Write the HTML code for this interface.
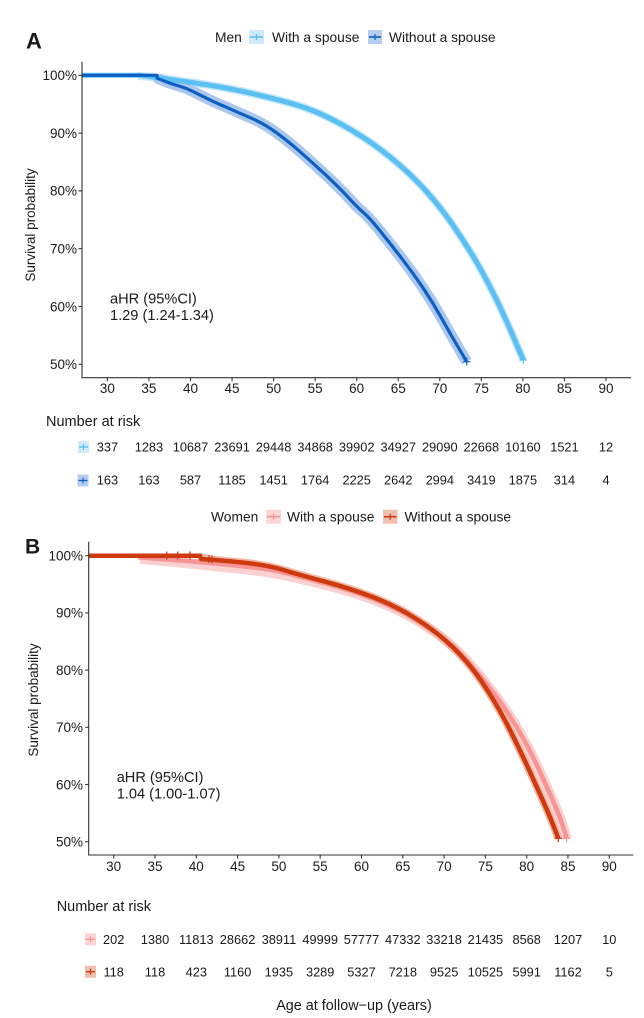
<!DOCTYPE html>
<html><head><meta charset="utf-8"><style>
html,body{margin:0;padding:0;background:#fff;}
svg{display:block;}
text{font-family:"Liberation Sans",Arial,sans-serif;fill:#1a1a1a;}
.tk{font-size:13.5px;}
.rk{font-size:12.8px;}
.lg{font-size:13.8px;}
.tt{font-size:14.5px;}
</style></head><body>
<svg width="644" height="1018" viewBox="0 0 644 1018" xmlns="http://www.w3.org/2000/svg">
<rect width="644" height="1018" fill="#fff"/>

<!-- ================= PANEL A ================= -->
<text x="26" y="48.3" style="font-size:22px;font-weight:bold">A</text>
<text class="lg" x="215" y="41.9">Men</text>
<rect x="249" y="30" width="15" height="14" fill="#cfeafc"/>
<line x1="250" y1="37" x2="263" y2="37" stroke="#5bbff2" stroke-width="1.6"/>
<line x1="256.5" y1="34" x2="256.5" y2="40" stroke="#5bbff2" stroke-width="1.2"/>
<text class="lg" x="272" y="41.9">With a spouse</text>
<rect x="368" y="30" width="14" height="14" fill="#b5cdef"/>
<line x1="369" y1="37" x2="381" y2="37" stroke="#0d5fc2" stroke-width="1.6"/>
<line x1="375" y1="34" x2="375" y2="40" stroke="#0d5fc2" stroke-width="1.2"/>
<text class="lg" x="389" y="41.9">Without a spouse</text>

<!-- bands A -->
<path d="M138,76 L150,76.65 Q160,78 170,79.35 Q180,80.7 205,84.5 Q230,88.3 255,94.15 Q280,100 296.65,105 Q313.3,110 330,118.35 Q346.7,126.7 363.35,137.5 Q380,148.3 396.65,162.5 Q413.3,176.7 426.65,191.7 Q440,206.7 451.65,223.35 Q463.3,240 473.3,256.65 Q483.3,273.3 493.3,293.3 Q503.3,313.3 513.3,336.65 L523.3,360" fill="none" stroke="#c5e6fb" stroke-width="8" stroke-linejoin="round"/>
<path d="M157,77 L158.5,78.75 Q160,79.5 166,81.75 Q172,84 179.35,86.15 Q186.7,88.3 193.35,91.65 Q200,95 206.65,98.35 Q213.3,101.7 219.65,104.35 Q226,107 233,110.15 Q240,113.3 251.65,118.3 Q263.3,123.3 275,131.65 Q286.7,140 300,151.65 Q313.3,163.3 326.65,175.8 Q340,188.3 348.35,197.5 Q356.7,206.7 363.35,212.5 Q370,218.3 380,230.8 Q390,243.3 401.65,258.3 Q413.3,273.3 423.3,288.3 Q433.3,303.3 441.65,318.3 Q450,333.3 458.35,347.5 L466.7,361.7" fill="none" stroke="#abc8ec" stroke-width="11" stroke-linejoin="round"/>
<!-- lines A -->
<path d="M82,75.3 L140,75.3 L150,76.65 Q160,78 170,79.35 Q180,80.7 205,84.5 Q230,88.3 255,94.15 Q280,100 296.65,105 Q313.3,110 330,118.35 Q346.7,126.7 363.35,137.5 Q380,148.3 396.65,162.5 Q413.3,176.7 426.65,191.7 Q440,206.7 451.65,223.35 Q463.3,240 473.3,256.65 Q483.3,273.3 493.3,293.3 Q503.3,313.3 513.3,336.65 L523.3,360" fill="none" stroke="#5bbff2" stroke-width="5" stroke-linejoin="round"/>
<path d="M82,75.3 L157,75.3 L157,78 L158.5,78.75 Q160,79.5 166,81.75 Q172,84 179.35,86.15 Q186.7,88.3 193.35,91.65 Q200,95 206.65,98.35 Q213.3,101.7 219.65,104.35 Q226,107 233,110.15 Q240,113.3 251.65,118.3 Q263.3,123.3 275,131.65 Q286.7,140 300,151.65 Q313.3,163.3 326.65,175.8 Q340,188.3 348.35,197.5 Q356.7,206.7 363.35,212.5 Q370,218.3 380,230.8 Q390,243.3 401.65,258.3 Q413.3,273.3 423.3,288.3 Q433.3,303.3 441.65,318.3 Q450,333.3 458.35,347.5 L466.7,361.7" fill="none" stroke="#0d5fc2" stroke-width="3.2" stroke-linejoin="round"/>
<line x1="82" y1="75.3" x2="157" y2="75.3" stroke="#0d5fc2" stroke-width="1.6"/>
<g stroke="#0d5fc2" stroke-width="1.2">
<line x1="466.7" y1="357.5" x2="466.7" y2="365.5"/><line x1="463" y1="361.7" x2="470.4" y2="361.7"/>
</g>
<g stroke="#5bbff2" stroke-width="1.2">
<line x1="523.3" y1="356" x2="523.3" y2="364"/><line x1="519.6" y1="360" x2="527" y2="360"/>
</g>

<!-- axes A -->
<g stroke="#333" stroke-width="1.1">
<line x1="82" y1="61.7" x2="82" y2="378.2"/>
<line x1="81.5" y1="377.7" x2="631" y2="377.7"/>
<line x1="78.5" y1="75.3" x2="82" y2="75.3"/>
<line x1="78.5" y1="133.1" x2="82" y2="133.1"/>
<line x1="78.5" y1="190.9" x2="82" y2="190.9"/>
<line x1="78.5" y1="248.7" x2="82" y2="248.7"/>
<line x1="78.5" y1="306.5" x2="82" y2="306.5"/>
<line x1="78.5" y1="364.3" x2="82" y2="364.3"/>
<line x1="107.4" y1="377.7" x2="107.4" y2="381.2"/>
<line x1="148.95" y1="377.7" x2="148.95" y2="381.2"/>
<line x1="190.5" y1="377.7" x2="190.5" y2="381.2"/>
<line x1="232.05" y1="377.7" x2="232.05" y2="381.2"/>
<line x1="273.6" y1="377.7" x2="273.6" y2="381.2"/>
<line x1="315.15" y1="377.7" x2="315.15" y2="381.2"/>
<line x1="356.7" y1="377.7" x2="356.7" y2="381.2"/>
<line x1="398.25" y1="377.7" x2="398.25" y2="381.2"/>
<line x1="439.8" y1="377.7" x2="439.8" y2="381.2"/>
<line x1="481.35" y1="377.7" x2="481.35" y2="381.2"/>
<line x1="522.9" y1="377.7" x2="522.9" y2="381.2"/>
<line x1="564.45" y1="377.7" x2="564.45" y2="381.2"/>
<line x1="606" y1="377.7" x2="606" y2="381.2"/>
</g>
<g class="tk" text-anchor="end">
<text x="77" y="80.1">100%</text>
<text x="77" y="137.9">90%</text>
<text x="77" y="195.7">80%</text>
<text x="77" y="253.5">70%</text>
<text x="77" y="311.3">60%</text>
<text x="77" y="369.1">50%</text>
</g>
<g class="tk" text-anchor="middle">
<text x="107.4" y="393">30</text>
<text x="148.95" y="393">35</text>
<text x="190.5" y="393">40</text>
<text x="232.05" y="393">45</text>
<text x="273.6" y="393">50</text>
<text x="315.15" y="393">55</text>
<text x="356.7" y="393">60</text>
<text x="398.25" y="393">65</text>
<text x="439.8" y="393">70</text>
<text x="481.35" y="393">75</text>
<text x="522.9" y="393">80</text>
<text x="564.45" y="393">85</text>
<text x="606" y="393">90</text>
</g>
<text class="tk" transform="translate(35,225) rotate(-90)" text-anchor="middle">Survival probability</text>
<text style="font-size:14.6px" x="110" y="303.5">aHR (95%CI)</text>
<text style="font-size:14.6px" x="110" y="320.2">1.29 (1.24-1.34)</text>

<!-- risk table A -->
<text class="tt" x="46" y="426">Number at risk</text>
<rect x="78" y="441" width="11" height="12" fill="#cfeafc"/>
<line x1="79" y1="447" x2="88" y2="447" stroke="#5bbff2" stroke-width="1.4"/>
<line x1="83.5" y1="444" x2="83.5" y2="450" stroke="#5bbff2" stroke-width="1.1"/>
<rect x="77.5" y="474.5" width="11" height="12" fill="#b5cdef"/>
<line x1="78.5" y1="480.5" x2="87.5" y2="480.5" stroke="#0d5fc2" stroke-width="1.4"/>
<line x1="83" y1="477.5" x2="83" y2="483.5" stroke="#0d5fc2" stroke-width="1.1"/>
<g class="rk" text-anchor="middle">
<text x="107.4" y="451.3">337</text>
<text x="148.95" y="451.3">1283</text>
<text x="190.5" y="451.3">10687</text>
<text x="232.05" y="451.3">23691</text>
<text x="273.6" y="451.3">29448</text>
<text x="315.15" y="451.3">34868</text>
<text x="356.7" y="451.3">39902</text>
<text x="398.25" y="451.3">34927</text>
<text x="439.8" y="451.3">29090</text>
<text x="481.35" y="451.3">22668</text>
<text x="522.9" y="451.3">10160</text>
<text x="564.45" y="451.3">1521</text>
<text x="606" y="451.3">12</text>
<text x="107.4" y="484.6">163</text>
<text x="148.95" y="484.6">163</text>
<text x="190.5" y="484.6">587</text>
<text x="232.05" y="484.6">1185</text>
<text x="273.6" y="484.6">1451</text>
<text x="315.15" y="484.6">1764</text>
<text x="356.7" y="484.6">2225</text>
<text x="398.25" y="484.6">2642</text>
<text x="439.8" y="484.6">2994</text>
<text x="481.35" y="484.6">3419</text>
<text x="522.9" y="484.6">1875</text>
<text x="564.45" y="484.6">314</text>
<text x="606" y="484.6">4</text>
</g>

<!-- ================= PANEL B ================= -->
<text x="25" y="553.3" style="font-size:21px;font-weight:bold">B</text>
<text class="lg" x="211" y="521.6">Women</text>
<rect x="266" y="509.7" width="15" height="14" fill="#fdd5d5"/>
<line x1="267" y1="516.7" x2="280" y2="516.7" stroke="#f79494" stroke-width="1.6"/>
<line x1="273.5" y1="513.7" x2="273.5" y2="519.7" stroke="#f79494" stroke-width="1.2"/>
<text class="lg" x="287" y="521.6">With a spouse</text>
<rect x="383" y="509.7" width="14.5" height="14" fill="#f0bfae"/>
<line x1="384" y1="516.7" x2="396.5" y2="516.7" stroke="#cd3a10" stroke-width="1.6"/>
<line x1="390.2" y1="513.7" x2="390.2" y2="519.7" stroke="#cd3a10" stroke-width="1.2"/>
<text class="lg" x="404.5" y="521.6">Without a spouse</text>

<!-- bands B -->
<path d="M140,559 L170,561.5 Q200,564.5 233.35,568 Q266.7,571.5 283.35,575 Q300,578.5 325,584.75 Q350,591 371.65,599 Q393.3,607 410,616.5 Q426.7,626 440,636 Q453.3,646 465,658.5 Q476.7,671 491.7,690.5 Q506.7,710 518.35,730 Q530,750 538.35,768.35 Q546.7,786.7 553.35,801.7 Q560,816.7 563.35,827.5 L566.7,838.3" fill="none" stroke="#fbd0d0" stroke-width="10" stroke-linejoin="round"/>
<path d="M200,557 L210.5,559.65 Q220,560.3 243.35,562.65 Q266.7,565 283.35,570 Q300,575 325,581.65 Q350,588.3 371.65,596.65 Q393.3,605 410,615 Q426.7,625 440,635.85 Q453.3,646.7 465,660 Q476.7,673.3 488.35,691.65 Q500,710 510,730 Q520,750 528.35,768.35 Q536.7,786.7 543.35,801.7 Q550,816.7 554.15,827.5 L558.3,838.3" fill="none" stroke="#f0b9a5" stroke-width="8" stroke-linejoin="round"/>
<!-- lines B -->
<path d="M88.7,555.7 L140,555.7 L140,557.5 L170,559.75 Q200,562 233.35,565.25 Q266.7,568.5 283.35,572.5 Q300,576.5 325,583.25 Q350,590 371.65,598.25 Q393.3,606.5 410,616.25 Q426.7,626 440,636 Q453.3,646 465,658.5 Q476.7,671 491.7,690.5 Q506.7,710 518.35,730 Q530,750 538.35,768.35 Q546.7,786.7 553.35,801.7 Q560,816.7 563.35,827.5 L566.7,838.3" fill="none" stroke="#f79494" stroke-width="4.5" stroke-linejoin="round"/>
<path d="M88.7,555.7 L200,555.7 L201,559 L210.5,559.65 Q220,560.3 243.35,562.65 Q266.7,565 283.35,570 Q300,575 325,581.65 Q350,588.3 371.65,596.65 Q393.3,605 410,615 Q426.7,625 440,635.85 Q453.3,646.7 465,660 Q476.7,673.3 488.35,691.65 Q500,710 510,730 Q520,750 528.35,768.35 Q536.7,786.7 543.35,801.7 Q550,816.7 554.15,827.5 L558.3,838.3" fill="none" stroke="#cd3a10" stroke-width="4.5" stroke-linejoin="round"/>
<line x1="88.7" y1="555.7" x2="201" y2="555.7" stroke="#cd3a10" stroke-width="1.6"/>
<g stroke="#cd3a10" stroke-width="1.3">
<line x1="166.7" y1="551.5" x2="166.7" y2="559.5"/><line x1="163" y1="555.7" x2="170.4" y2="555.7"/>
<line x1="177.7" y1="551.5" x2="177.7" y2="559.5"/><line x1="174" y1="555.7" x2="181.4" y2="555.7"/>
<line x1="190" y1="551.5" x2="190" y2="559.5"/><line x1="186.3" y1="555.7" x2="193.7" y2="555.7"/>
<line x1="209" y1="555" x2="209" y2="563"/><line x1="205.3" y1="559.3" x2="212.7" y2="559.3"/>
<line x1="212" y1="555.3" x2="212" y2="563.3"/>
<line x1="558.3" y1="834" x2="558.3" y2="842"/><line x1="554.6" y1="838.3" x2="562" y2="838.3"/>
</g>
<g stroke="#f79494" stroke-width="1.3">
<line x1="566.7" y1="834" x2="566.7" y2="842"/><line x1="563" y1="838.3" x2="570.4" y2="838.3"/>
</g>

<!-- axes B -->
<g stroke="#333" stroke-width="1.1">
<line x1="88.7" y1="541.7" x2="88.7" y2="855.5"/>
<line x1="88.2" y1="855" x2="633.3" y2="855"/>
<line x1="85.2" y1="555.7" x2="88.7" y2="555.7"/>
<line x1="85.2" y1="612.9" x2="88.7" y2="612.9"/>
<line x1="85.2" y1="670.1" x2="88.7" y2="670.1"/>
<line x1="85.2" y1="727.3" x2="88.7" y2="727.3"/>
<line x1="85.2" y1="784.5" x2="88.7" y2="784.5"/>
<line x1="85.2" y1="841.7" x2="88.7" y2="841.7"/>
<line x1="113.7" y1="855" x2="113.7" y2="858.5"/>
<line x1="155" y1="855" x2="155" y2="858.5"/>
<line x1="196.3" y1="855" x2="196.3" y2="858.5"/>
<line x1="237.6" y1="855" x2="237.6" y2="858.5"/>
<line x1="278.9" y1="855" x2="278.9" y2="858.5"/>
<line x1="320.2" y1="855" x2="320.2" y2="858.5"/>
<line x1="361.5" y1="855" x2="361.5" y2="858.5"/>
<line x1="402.8" y1="855" x2="402.8" y2="858.5"/>
<line x1="444.1" y1="855" x2="444.1" y2="858.5"/>
<line x1="485.4" y1="855" x2="485.4" y2="858.5"/>
<line x1="526.7" y1="855" x2="526.7" y2="858.5"/>
<line x1="568" y1="855" x2="568" y2="858.5"/>
<line x1="609.3" y1="855" x2="609.3" y2="858.5"/>
</g>
<g class="tk" text-anchor="end">
<text x="83" y="560.5">100%</text>
<text x="83" y="617.7">90%</text>
<text x="83" y="674.9">80%</text>
<text x="83" y="732.1">70%</text>
<text x="83" y="789.3">60%</text>
<text x="83" y="846.5">50%</text>
</g>
<g class="tk" text-anchor="middle">
<text x="113.7" y="871">30</text>
<text x="155" y="871">35</text>
<text x="196.3" y="871">40</text>
<text x="237.6" y="871">45</text>
<text x="278.9" y="871">50</text>
<text x="320.2" y="871">55</text>
<text x="361.5" y="871">60</text>
<text x="402.8" y="871">65</text>
<text x="444.1" y="871">70</text>
<text x="485.4" y="871">75</text>
<text x="526.7" y="871">80</text>
<text x="568" y="871">85</text>
<text x="609.3" y="871">90</text>
</g>
<text class="tk" transform="translate(38,700) rotate(-90)" text-anchor="middle">Survival probability</text>
<text style="font-size:14.6px" x="116.7" y="782">aHR (95%CI)</text>
<text style="font-size:14.6px" x="116.7" y="798.5">1.04 (1.00-1.07)</text>

<!-- risk table B -->
<text class="tt" x="56.7" y="911">Number at risk</text>
<rect x="85" y="933.3" width="11" height="12" fill="#fdd5d5"/>
<line x1="86" y1="939.3" x2="95" y2="939.3" stroke="#f79494" stroke-width="1.4"/>
<line x1="90.5" y1="936.3" x2="90.5" y2="942.3" stroke="#f79494" stroke-width="1.1"/>
<rect x="85" y="965.7" width="11" height="12" fill="#f0bfae"/>
<line x1="86" y1="971.7" x2="95" y2="971.7" stroke="#cd3a10" stroke-width="1.4"/>
<line x1="90.5" y1="968.7" x2="90.5" y2="974.7" stroke="#cd3a10" stroke-width="1.1"/>
<g class="rk" text-anchor="middle">
<text x="113.7" y="943.9">202</text>
<text x="155" y="943.9">1380</text>
<text x="196.3" y="943.9">11813</text>
<text x="237.6" y="943.9">28662</text>
<text x="278.9" y="943.9">38911</text>
<text x="320.2" y="943.9">49999</text>
<text x="361.5" y="943.9">57777</text>
<text x="402.8" y="943.9">47332</text>
<text x="444.1" y="943.9">33218</text>
<text x="485.4" y="943.9">21435</text>
<text x="526.7" y="943.9">8568</text>
<text x="568" y="943.9">1207</text>
<text x="609.3" y="943.9">10</text>
<text x="113.7" y="976.3">118</text>
<text x="155" y="976.3">118</text>
<text x="196.3" y="976.3">423</text>
<text x="237.6" y="976.3">1160</text>
<text x="278.9" y="976.3">1935</text>
<text x="320.2" y="976.3">3289</text>
<text x="361.5" y="976.3">5327</text>
<text x="402.8" y="976.3">7218</text>
<text x="444.1" y="976.3">9525</text>
<text x="485.4" y="976.3">10525</text>
<text x="526.7" y="976.3">5991</text>
<text x="568" y="976.3">1162</text>
<text x="609.3" y="976.3">5</text>
</g>

<text x="354" y="1010" text-anchor="middle" style="font-size:14.4px">Age at follow−up (years)</text>
</svg>
</body></html>
